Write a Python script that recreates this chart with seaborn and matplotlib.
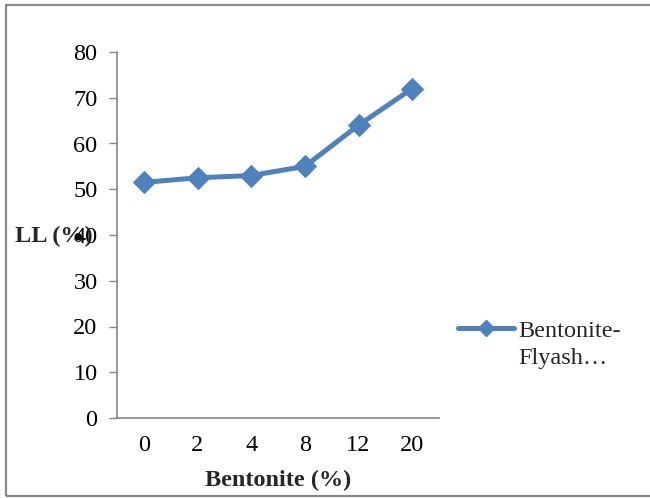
import matplotlib
matplotlib.use("Agg")
import matplotlib.pyplot as plt
import seaborn as sns
import pandas as pd
from matplotlib.lines import Line2D
from matplotlib.patches import Rectangle
from matplotlib.legend_handler import HandlerLine2D

bentonite = ["0", "2", "4", "8", "12", "20"]
ll_values = [51.5, 52.5, 53.0, 55.0, 64.0, 72.0]
y_ticks = [0, 10, 20, 30, 40, 50, 60, 70, 80]
series_name = "Bentonite-\nFlyash\u2026"

sns.set_theme(style="white")
plt.rcParams["font.family"] = ["Liberation Serif", "DejaVu Serif"]

W, H = 650, 498
fig = plt.figure(figsize=(W / 100, H / 100), dpi=100)
ax = fig.add_axes([117 / W, 1 - 418 / H, (439 - 117) / W, (418 - 52) / H])

df = pd.DataFrame({"Bentonite": bentonite, "LL": ll_values})
color = "#4F81BD"
sns.lineplot(data=df, x="Bentonite", y="LL", ax=ax, sort=False, color=color,
             linewidth=3.6, marker="D", markersize=11, markeredgecolor=color,
             markerfacecolor=color)

ax.set_xlim(-0.5, len(bentonite) - 0.5)
ax.set_ylim(0, 80)
ax.set_yticks(y_ticks)
ax.set_yticklabels([str(t) for t in y_ticks])
fs = 17.5
ax.tick_params(axis="y", which="both", left=True, length=6, width=1,
               color="#868686", labelsize=fs, pad=8, labelcolor="black")
ax.tick_params(axis="x", which="both", bottom=False, labelsize=fs, pad=6,
               labelcolor="black")
for s in ["top", "right"]:
    ax.spines[s].set_visible(False)
for s in ["left", "bottom"]:
    ax.spines[s].set_color("#868686")
    ax.spines[s].set_linewidth(1.2)
ax.grid(False)

ax.set_xlabel("Bentonite (%)", fontsize=fs, fontweight="bold", labelpad=10.5)
ax.set_ylabel("")
fig.text(15 / W, 1 - 236 / H, "LL (%)", fontsize=fs, fontweight="bold",
         ha="left", va="center")
fig.text(78 / W, 1 - 239 / H, "\u2022", fontsize=fs, ha="center", va="center",
         family=["DejaVu Sans"], color="black")

linespacing = 1.35
shift = 0.5 * linespacing * fs


class TopLineHandler(HandlerLine2D):
    def create_artists(self, legend, orig_handle, xdescent, ydescent, width,
                       height, fontsize, trans):
        artists = super().create_artists(legend, orig_handle, xdescent,
                                         ydescent, width, height, fontsize,
                                         trans)
        for a in artists:
            a.set_ydata([y + shift for y in a.get_ydata()])
        return artists


handle = Line2D([], [], color=color, linewidth=3.6, marker="D", markersize=8,
                markerfacecolor=color, markeredgecolor=color)
leg = fig.legend([handle], [series_name], loc="center left",
                 bbox_to_anchor=(458 / W, 1 - 345 / H), frameon=False,
                 fontsize=fs, handlelength=2.3, handletextpad=0.17,
                 borderaxespad=0, borderpad=0,
                 handler_map={Line2D: TopLineHandler()})
for t in leg.get_texts():
    t.set_linespacing(linespacing)

border = Rectangle((6 / W, 1 - 496 / H), 1.2, (496 - 5) / H,
                   transform=fig.transFigure, fill=False,
                   edgecolor="#878787", linewidth=1.6, clip_on=False)
fig.add_artist(border)

fig.savefig("out.png", dpi=100)
